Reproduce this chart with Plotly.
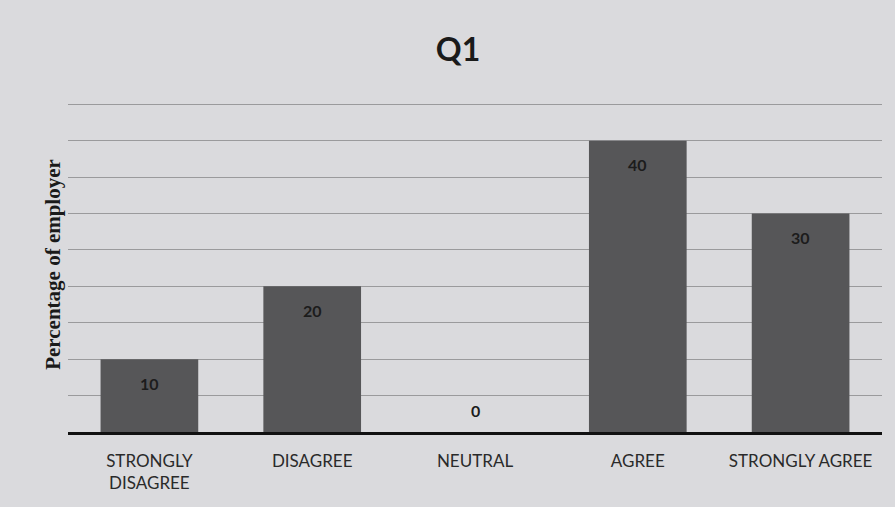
import plotly.graph_objects as go

categories = ["STRONGLY<br>DISAGREE", "DISAGREE", "NEUTRAL", "AGREE", "STRONGLY AGREE"]
values = [10, 20, 0, 40, 30]
title_text = "Q1"
y_title = "Percentage of employer"

fig = go.Figure()
fig.add_trace(go.Bar(
    x=categories,
    y=values,
    marker=dict(color="#565658", line=dict(width=0)),
    hoverinfo="x+y",
))

# value labels placed near the top of each bar (above the axis for zero)
for c, v in zip(categories, values):
    fig.add_annotation(
        x=c, y=v, text="<b>" + str(v) + "</b>", showarrow=False,
        yanchor="middle", yshift=(-24 if v > 0 else 22),
        font=dict(family="Lato", size=16, color="#1c1c1c"),
    )

fig.update_layout(
    width=895, height=507,
    margin=dict(l=68, r=13, t=97, b=75),
    paper_bgcolor="#dadadd",
    plot_bgcolor="#dadadd",
    bargap=0.4,
    showlegend=False,
    title=dict(text="<b>" + title_text + "</b>", x=458 / 895, xanchor="center",
               y=1 - 50 / 507, yanchor="middle",
               font=dict(family="Lato", size=32, color="#1a1a1a")),
    xaxis=dict(
        showgrid=False, showline=True, linecolor="#111111", linewidth=2.5,
        tickfont=dict(family="Lato", size=17, color="#2a2a2a"),
        ticks="outside", ticklen=12, tickcolor="rgba(0,0,0,0)",
    ),
    yaxis=dict(
        range=[0, 46], dtick=5, showgrid=True, gridcolor="#9a9a9c", gridwidth=1,
        showticklabels=False, zeroline=False, showline=False,
        title=dict(text="<b>" + y_title + "</b>", standoff=0,
                   font=dict(family="Liberation Serif", size=21, color="#1a1a1a")),
    ),
)

fig.write_html("out.html", config={"displayModeBar": False},
               post_script="document.body.style.margin='0';document.body.style.padding='0';")
